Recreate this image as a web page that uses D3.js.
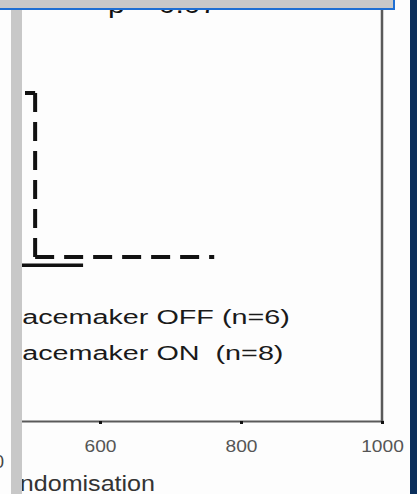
<!DOCTYPE html>
<html>
<head>
<meta charset="utf-8">
<script src="https://d3js.org/d3.v7.min.js"></script>
<style>
  html, body { margin: 0; padding: 0; background: #fdfdfd; overflow: hidden; }
  text { font-family: "Liberation Sans", Arial, sans-serif; }
</style>
</head>
<body>
<div id="chart"></div>
<script>
// values
var xTicks = [600, 800, 1000];
var offTimes = [0, 508, 762];
var offSurv = [1.0, 0.5, 0.5];
var onTimes = [0, 430, 576];
var onSurv = [1.0, 0.475, 0.475];
var legendLabels = ["Pacemaker OFF (n=6)", "Pacemaker ON  (n=8)"];
var pLabel = "p = 0.07";
var xLabel = "Days from randomisation";

var W = 417, H = 494;
var svg = d3.select("#chart").append("svg")
  .attr("width", W).attr("height", H);

svg.append("rect").attr("width", W).attr("height", H).attr("fill", "#fdfdfd");

// picture is cut at the grey frame on the left
svg.append("clipPath").attr("id", "cut")
  .append("rect").attr("x", 22).attr("y", 0).attr("width", 388).attr("height", H);

var g = svg.append("g").attr("clip-path", "url(#cut)");

var x = d3.scaleLinear().domain([0, 1000]).range([-323, 382]);
var y = d3.scaleLinear().domain([0, 1.25]).range([421, 11]);

// frame on the right
g.append("line")
  .attr("x1", x(1000)).attr("x2", x(1000))
  .attr("y1", 0).attr("y2", y(0))
  .attr("stroke", "#5a5a5a").attr("stroke-width", 2.5);

// x axis
var xAxis = g.append("g")
  .attr("transform", "translate(0," + y(0) + ")")
  .call(d3.axisBottom(x).tickValues(xTicks).tickSize(3).tickFormat(d3.format("d")));
xAxis.select(".domain").attr("stroke", "#5a5a5a").attr("stroke-width", 2);
xAxis.selectAll(".tick line").attr("stroke", "#111").attr("stroke-width", 3);
xAxis.selectAll(".tick text")
  .attr("y", 31).attr("dy", 0)
  .attr("fill", "#555")
  .style("font-size", "17px")
  .attr("transform", "scale(1.13,1)");

// step curves, every segment restarts its dash pattern
function steps(times, surv) {
  var segs = [];
  for (var i = 0; i < times.length - 1; i++) {
    segs.push([[times[i], surv[i]], [times[i + 1], surv[i]]]);
    if (surv[i + 1] !== surv[i]) {
      segs.push([[times[i + 1], surv[i]], [times[i + 1], surv[i + 1]]]);
    }
  }
  return segs;
}
var line = d3.line().x(function (d) { return x(d[0]); }).y(function (d) { return y(d[1]); });

g.selectAll(".on").data(steps(onTimes, onSurv)).enter().append("path")
  .attr("class", "on")
  .attr("d", line)
  .attr("fill", "none").attr("stroke", "#111").attr("stroke-width", 3.5);

g.selectAll(".off").data(steps(offTimes, offSurv)).enter().append("path")
  .attr("class", "off")
  .attr("d", line)
  .attr("fill", "none").attr("stroke", "#111").attr("stroke-width", 4)
  .attr("stroke-dasharray", "19,10");

// legend
g.selectAll(".leg").data(legendLabels).enter().append("text")
  .attr("class", "leg")
  .attr("transform", function (d, i) { return "translate(3," + (324 + i * 36) + ") scale(1.37,1)"; })
  .attr("xml:space", "preserve")
  .style("white-space", "pre")
  .style("font-size", "21px")
  .attr("fill", "#1a1a1a")
  .text(function (d) { return d; });

// p value
g.append("text")
  .attr("transform", "translate(108,13) scale(1.25,1)")
  .style("font-size", "24px")
  .attr("fill", "#111")
  .text(pLabel);

// axis title
g.append("text")
  .attr("transform", "translate(155,491) scale(1.14,1)")
  .attr("text-anchor", "end")
  .style("font-size", "22px")
  .attr("fill", "#333")
  .text(xLabel);

// slide decorations
svg.append("rect").attr("x", 11).attr("y", 9).attr("width", 11).attr("height", H - 9).attr("fill", "#c8c8c8");
svg.append("rect").attr("x", 0).attr("y", 0).attr("width", 394).attr("height", 8).attr("fill", "#c9c9c9");
svg.append("line").attr("x1", 0).attr("x2", 395).attr("y1", 9).attr("y2", 9).attr("stroke", "#1f6fd3").attr("stroke-width", 2);
svg.append("line").attr("x1", 394).attr("x2", 394).attr("y1", 0).attr("y2", 10).attr("stroke", "#1f6fd3").attr("stroke-width", 2);
svg.append("rect").attr("x", 410).attr("y", 0).attr("width", 7).attr("height", H).attr("fill", "#0b2f5c");

// stray label from the neighbouring panel
svg.append("text")
  .attr("x", 4).attr("y", 468)
  .attr("text-anchor", "end")
  .style("font-size", "18px")
  .attr("fill", "#444")
  .text("0");
</script>
</body>
</html>
